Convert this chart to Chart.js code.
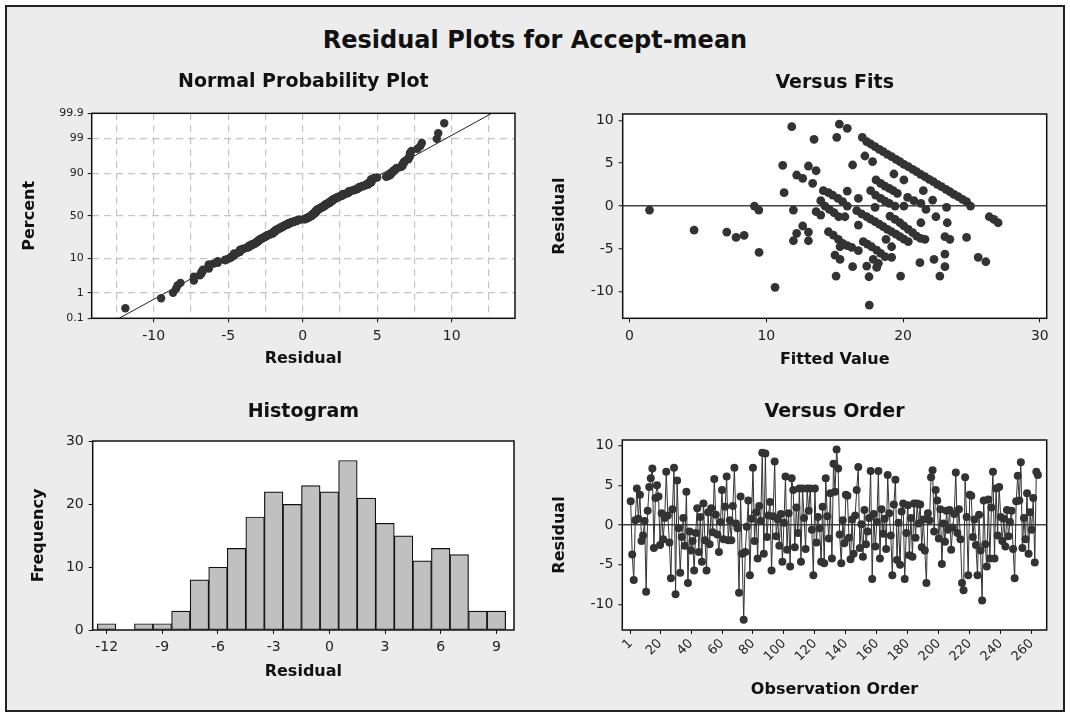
<!DOCTYPE html>
<html>
<head>
<meta charset="utf-8">
<title>Residual Plots for Accept-mean</title>
<script src="https://cdn.jsdelivr.net/npm/chart.js@4.4.1/dist/chart.umd.min.js"></script>
<style>
  html, body { margin: 0; padding: 0; background: #fff; width: 1070px; height: 719px; overflow: hidden; }
  #frame { position: absolute; left: 5px; top: 5px; width: 1056px; height: 703px; border: 2px solid #222; background: #ececec; }
  #mainTitle { position: absolute; left: 0; top: 26px; width: 1070px; line-height: 28px; text-align: center;
               font: bold 24px "DejaVu Sans", Verdana, sans-serif; color: #111; }
  canvas { position: absolute; }
</style>
</head>
<body>
<div id="frame"></div>
<div id="mainTitle">Residual Plots for Accept-mean</div>
<canvas id="npp" width="520" height="320" style="left:10px;top:60px"></canvas>
<canvas id="fits" width="520" height="320" style="left:540px;top:60px"></canvas>
<canvas id="hist" width="520" height="320" style="left:10px;top:390px"></canvas>
<canvas id="order" width="520" height="320" style="left:540px;top:390px"></canvas>
<script>
// residuals in observation order
const residuals = [
  3.0, -3.7, -6.9, 0.6, 4.6, 0.8, 3.8, -2.0, -1.3, 0.5,
  -8.4, 1.8, 4.8, 5.9, 7.1, -2.9, 3.4, 5.0, 3.6, -2.5,
  1.5, -1.8, 0.9, 6.7, 1.2, -2.2, -6.7, 2.0, 7.2, -8.7,
  5.6, -0.4, -6.0, -1.5, 0.9, -2.6, 4.2, -7.3, -0.8, -3.2,
  -2.0, -5.7, -1.0, 2.1, -3.4, 1.0, -4.6, 2.7, -1.9, -5.7,
  1.6, -2.4, 2.1, -0.9, 5.8, 1.3, -1.2, -3.4, 0.4, 4.4,
  -1.8, 2.3, 6.1, -1.9, 0.6, -1.9, 2.4, 7.2, 0.2, -0.4,
  -8.5, 3.6, -3.6, -11.9, -3.4, -0.2, 3.1, -6.3, 0.8, 7.2,
  -2.0, 1.6, -4.2, 2.4, 0.5, 9.1, -3.6, 9.0, -1.5, 1.2,
  2.9, -5.7, 1.1, 8.0, -1.4, 0.7, -2.6, 1.4, -4.6, 0.3,
  6.1, -3.1, 1.5, -5.2, 5.9, 4.4, -2.8, 2.2, -1.0, 4.6,
  -4.6, 4.6, 0.9, -3.0, 4.6, 1.8, 4.6, -0.6, -6.3, 4.6,
  -2.2, 1.0, -0.4, -4.6, 2.3, -4.8, 5.9, 1.1, -1.7, 4.0,
  -4.2, 7.7, 4.2, 9.5, 7.1, -1.2, -4.8, 0.6, -2.3, 3.8,
  3.7, -1.6, -4.3, 0.7, -3.6, 1.2, 4.4, 7.3, -2.9, 0.1,
  -4.0, 1.9, -2.4, -0.8, 0.9, 6.8, -6.8, 1.4, -2.7, 0.4,
  6.8, -4.2, 2.0, -1.1, 0.8, -3.0, 6.3, 1.5, -1.3, -6.3,
  2.6, 5.7, -4.4, 0.3, -5.0, 1.7, 2.7, -6.8, -1.0, 2.5,
  -3.8, 0.9, -4.0, 2.7, -1.6, 2.7, 0.2, 2.6, -2.8, 0.7,
  -3.2, -7.3, 1.5, 0.6, 6.0, 6.9, -0.8, 4.4, 3.1, -1.7,
  2.0, -4.9, 0.2, -2.1, 1.8, -0.6, 1.9, -3.1, -0.3, 1.4,
  6.6, -1.0, 2.0, -1.8, -7.3, -8.2, 6.0, 1.0, -6.3, 3.8,
  3.7, -1.5, 0.7, -2.5, -6.3, 1.3, -3.2, -9.5, 3.1, -2.4,
  -5.2, 3.2, -4.2, 2.2, 6.7, -4.2, 4.6, -1.3, 4.8, 1.0,
  -2.0, 0.8, -2.7, 1.9, -1.4, 0.4, 1.8, -3.0, -6.7, 3.0,
  6.2, 3.1, 7.9, -2.9, 0.9, -1.8, 4.0, -3.6, 1.6, -0.6,
  3.4, -4.7, 6.7, 6.3
];

// Versus Fits points (fitted value / residual)
const fittedValues = [
  1.46, 4.72, 7.11, 7.79, 8.38, 9.13, 9.45, 9.47, 10.64, 11.2,
  11.3, 11.86, 11.98, 11.98, 12.22, 12.66, 12.22, 12.66, 13.08, 13.64,
  13.39, 13.08, 13.08, 13.49, 13.98, 13.64, 13.98, 14.17, 14.54, 14.85,
  15.24, 15.58, 15.92, 14.29, 14.61, 14.95, 15.29, 15.75, 15.92, 16.31,
  16.73, 16.73, 14.54, 14.9, 15.27, 15.58, 15.92, 16.24, 16.73, 15.39,
  15.02, 15.39, 15.1, 16.31, 15.15, 15.34, 15.92, 17.02, 17.34, 17.63,
  17.95, 18.26, 18.55, 18.85, 19.16, 19.48, 19.77, 20.06, 20.38, 20.7,
  20.99, 21.28, 21.6, 21.91, 22.21, 22.5, 22.81, 23.13, 23.42, 23.72,
  24.03, 24.35, 24.64, 24.93, 17.21, 17.77, 19.33, 20.06, 18.02, 18.36,
  18.68, 18.99, 19.28, 19.58, 17.63, 17.99, 18.36, 18.68, 18.99, 19.41,
  17.95, 16.61, 16.97, 17.34, 17.63, 17.95, 18.26, 18.55, 18.85, 19.16,
  19.48, 19.77, 20.06, 20.38, 19.04, 19.41, 19.77, 20.06, 20.38, 20.7,
  20.99, 21.28, 17.09, 17.39, 17.7, 18.07, 18.36, 18.68, 17.34, 17.82,
  18.19, 17.51, 18.07, 19.16, 18.75, 19.16, 17.53, 21.48, 22.16, 23.18,
  21.3, 22.4, 23.23, 21.6, 22.26, 23.06, 23.06, 23.42, 21.23, 22.69,
  23.06, 19.82, 24.64, 25.49, 26.05, 26.3, 26.64, 26.95, 20.33, 20.79,
  21.3, 21.67, 20.06
];
const fittedResiduals = [
  -0.47, -2.8, -3.04, -3.66, -3.42, 0, -0.47, -5.41, -9.49, 4.75,
  1.56, 9.26, -0.47, -4.05, -3.19, -2.33, 3.62, 3.23, 4.67, 4.12,
  2.65, -3.04, -4.05, 7.78, 0.62, -0.66, -1.05, 1.79, 1.56, 1.28,
  0.89, 0.51, 0, 0, -0.39, -0.78, -1.25, -1.25, 1.75, 4.79,
  0.89, -2.22, -3.0, -3.39, -3.89, -4.36, -4.63, -4.82, -5.21, -4.75,
  -5.72, -6.23, -8.17, -7.08, 8.02, 9.57, 9.07, 8.02, 7.51, 7.24,
  6.93, 6.61, 6.34, 6.03, 5.76, 5.45, 5.18, 4.86, 4.59, 4.28,
  4.01, 3.7, 3.42, 3.11, 2.84, 2.53, 2.26, 1.95, 1.67, 1.36,
  1.09, 0.78, 0.51, 0, 5.84, 5.18, 3.74, 3.04, 3.04, 2.65,
  2.33, 2.06, 1.79, 1.48, 1.79, 1.28, 0.89, 0.58, 0.31, 0,
  -0.16, -0.54, -0.93, -1.25, -1.52, -1.83, -2.1, -2.41, -2.72, -3.0,
  -3.27, -3.58, -3.85, -4.16, -1.17, -1.56, -1.95, -2.33, -2.72, -3.11,
  -3.5, -3.77, -4.16, -4.44, -4.75, -5.14, -5.53, -5.91, -7.0, -6.23,
  -6.69, -8.25, -7.16, -5.99, -3.89, -4.75, -11.56, 1.79, 0.7, -0.16,
  -1.95, -1.25, -1.95, -3.89, -6.23, -5.6, -3.58, -3.89, -6.61, -8.17,
  -7.08, -8.17, -3.66, -5.99, -6.5, -1.25, -1.56, -1.95, 1.01, 0.62,
  0.31, -0.39, 0
];

// histogram (bin midpoints, counts)
const histBins = [-12, -11, -10, -9, -8, -7, -6, -5, -4, -3, -2, -1, 0, 1, 2, 3, 4, 5, 6, 7, 8, 9];
const histCounts = [1, 0, 1, 1, 3, 8, 10, 13, 18, 22, 20, 23, 22, 27, 21, 17, 15, 11, 13, 12, 3, 3];

// tick labels
const nppPercentTicks = [0.1, 1, 10, 50, 90, 99, 99.9];
const nppResidTicks = [-10, -5, 0, 5, 10];
const nppGridX = [-12.5, -10, -7.5, -5, -2.5, 0, 2.5, 5, 7.5, 10, 12.5];
const fitsTicks = [0, 10, 20, 30];
const residTicks = [-10, -5, 0, 5, 10];
const histXTicks = [-12, -9, -6, -3, 0, 3, 6, 9];
const histYTicks = [0, 10, 20, 30];
const orderTicks = [1, 20, 40, 60, 80, 100, 120, 140, 160, 180, 200, 220, 240, 260];

// inverse normal cdf (Acklam) for the probability axis
function normInv(p) {
  const a = [-3.969683028665376e+01, 2.209460984245205e+02, -2.759285104469687e+02, 1.383577518672690e+02, -3.066479806614716e+01, 2.506628277459239e+00];
  const b = [-5.447609879822406e+01, 1.615858368580409e+02, -1.556989798598866e+02, 6.680131188771972e+01, -1.328068155288572e+01];
  const c = [-7.784894002430293e-03, -3.223964580411365e-01, -2.400758277161838e+00, -2.549732539343734e+00, 4.374664141464968e+00, 2.938163982698783e+00];
  const d = [7.784695709041462e-03, 3.224671290700398e-01, 2.445134137142996e+00, 3.754408661907416e+00];
  let q, r;
  if (p < 0.02425) {
    q = Math.sqrt(-2 * Math.log(p));
    return (((((c[0]*q+c[1])*q+c[2])*q+c[3])*q+c[4])*q+c[5]) / ((((d[0]*q+d[1])*q+d[2])*q+d[3])*q+1);
  }
  if (p > 1 - 0.02425) {
    q = Math.sqrt(-2 * Math.log(1 - p));
    return -(((((c[0]*q+c[1])*q+c[2])*q+c[3])*q+c[4])*q+c[5]) / ((((d[0]*q+d[1])*q+d[2])*q+d[3])*q+1);
  }
  q = p - 0.5; r = q * q;
  return (((((a[0]*r+a[1])*r+a[2])*r+a[3])*r+a[4])*r+a[5])*q / (((((b[0]*r+b[1])*r+b[2])*r+b[3])*r+b[4])*r+1);
}

const FONT = '"DejaVu Sans", Verdana, sans-serif';
Chart.defaults.font.family = FONT;
Chart.defaults.color = '#222';
Chart.defaults.animation = false;
Chart.defaults.plugins.legend.display = false;
Chart.defaults.plugins.tooltip.enabled = false;

// white plot area + black frame like Minitab
Chart.register({
  id: 'plotFrame',
  beforeDraw(chart) {
    const a = chart.chartArea, ctx = chart.ctx;
    ctx.save();
    ctx.fillStyle = '#fff';
    ctx.fillRect(a.left, a.top, a.right - a.left, a.bottom - a.top);
    ctx.restore();
  },
  afterDraw(chart) {
    const a = chart.chartArea, ctx = chart.ctx;
    ctx.save();
    ctx.strokeStyle = '#111';
    ctx.lineWidth = 1.5;
    ctx.strokeRect(a.left, a.top, a.right - a.left, a.bottom - a.top);
    ctx.restore();
  }
});

const NONE = 'rgba(0,0,0,0)';
function panelTitle(text, top, bottom) {
  return { display: true, text: text, fullSize: false, color: '#111',
           font: { size: 19, weight: 'bold' }, padding: { top: top, bottom: bottom } };
}
function axisTitle(text, pad) {
  return { display: true, text: text, color: '#111', font: { size: 16, weight: 'bold' }, padding: pad };
}
function fixedTicks(values) {
  return function (s) { s.ticks = values.map(v => ({ value: v })); };
}
function fixSize(prop, size) {
  return function (s) {
    s[prop] = size;
    s.paddingLeft = 0; s.paddingRight = 0; s.paddingTop = 0; s.paddingBottom = 0;
  };
}
const zeroLine = c => (c.tick && c.tick.value === 0) ? '#444' : NONE;

// ---------- Normal probability plot ----------
const sorted = residuals.slice().sort((a, b) => a - b);
const n = sorted.length;
const nppPoints = sorted.map((r, i) => ({ x: r, y: normInv((i + 1 - 0.3) / (n + 0.4)) }));
const mean = sorted.reduce((s, v) => s + v, 0) / n;
const sd = Math.sqrt(sorted.reduce((s, v) => s + (v - mean) * (v - mean), 0) / (n - 1));
const zTop = normInv(0.999);
const nppZTicks = nppPercentTicks.map(p => normInv(p / 100));

new Chart(document.getElementById('npp'), {
  type: 'scatter',
  data: {
    datasets: [
      { data: nppPoints, pointRadius: 4.2, backgroundColor: '#333', borderWidth: 0 },
      { data: [{ x: mean - zTop * sd, y: -zTop }, { x: mean + zTop * sd, y: zTop }],
        showLine: true, pointRadius: 0, borderColor: '#222', borderWidth: 1 }
    ]
  },
  options: {
    responsive: false,
    layout: { padding: { left: 0, right: 15, top: 0, bottom: 0 } },
    plugins: { title: panelTitle('Normal Probability Plot', 10.6, 19.9) },
    scales: {
      x: {
        type: 'linear', min: -14.16, max: 14.25,
        afterBuildTicks: fixedTicks(nppGridX),
        afterFit: fixSize('height', 61.7),
        ticks: { font: { size: 14 }, padding: 6, color: '#222',
                 callback: v => nppResidTicks.includes(v) ? String(v) : '' },
        grid: { color: '#c4c4c4', lineWidth: 1.2, tickLength: 4, tickWidth: 1,
                tickColor: c => nppResidTicks.includes(c.tick.value) ? '#111' : NONE },
        border: { display: false, dash: [7, 5] },
        title: axisTitle('Residual', { bottom: 11.1 })
      },
      y: {
        type: 'linear', min: -zTop, max: zTop,
        afterBuildTicks: fixedTicks(nppZTicks),
        afterFit: fixSize('width', 81.7),
        ticks: { font: { size: 11 }, padding: 4, color: '#222',
                 callback: (v, i) => String(nppPercentTicks[i]) },
        grid: { color: c => (c.index === 0 || c.index === nppZTicks.length - 1) ? NONE : '#c4c4c4',
                lineWidth: 1.2, tickLength: 4, tickWidth: 1, tickColor: '#111' },
        border: { display: false, dash: [7, 5] },
        title: axisTitle('Percent', { top: 10.4 })
      }
    }
  }
});

// ---------- Versus fits ----------
new Chart(document.getElementById('fits'), {
  type: 'scatter',
  data: {
    datasets: [{
      data: fittedValues.map((f, i) => ({ x: f, y: fittedResiduals[i] })),
      pointRadius: 4.4, backgroundColor: '#333', borderWidth: 0
    }]
  },
  options: {
    responsive: false,
    layout: { padding: { left: 0, right: 13.3, top: 0, bottom: 0 } },
    plugins: { title: panelTitle('Versus Fits', 11.3, 19.9) },
    scales: {
      x: {
        type: 'linear', min: -0.5, max: 30.5,
        afterBuildTicks: fixedTicks(fitsTicks),
        afterFit: fixSize('height', 61.7),
        ticks: { font: { size: 14 }, padding: 6, color: '#222' },
        grid: { color: NONE, tickLength: 4, tickWidth: 1, tickColor: '#111' },
        border: { display: false },
        title: axisTitle('Fitted Value', { bottom: 10.4 })
      },
      y: {
        type: 'linear', min: -13.1, max: 10.74,
        afterBuildTicks: fixedTicks(residTicks),
        afterFit: fixSize('width', 82.7),
        ticks: { font: { size: 14 }, padding: 5, color: '#222' },
        grid: { color: zeroLine, lineWidth: 1.5, tickLength: 4, tickWidth: 1, tickColor: '#111' },
        border: { display: false },
        title: axisTitle('Residual', { top: 10.7 })
      }
    }
  }
});

// ---------- Histogram ----------
new Chart(document.getElementById('hist'), {
  type: 'bar',
  data: {
    datasets: [{
      data: histBins.map((b, i) => ({ x: b, y: histCounts[i] })),
      backgroundColor: '#c0c0c0', borderColor: '#111', borderWidth: 1.2, borderSkipped: false,
      barPercentage: 1, categoryPercentage: 1
    }]
  },
  options: {
    responsive: false,
    layout: { padding: { left: 0, right: 16, top: 0, bottom: 0 } },
    plugins: { title: panelTitle('Histogram', 10.3, 17.9) },
    scales: {
      x: {
        type: 'linear', min: -12.75, max: 9.95, offset: false,
        afterBuildTicks: fixedTicks(histXTicks),
        afterFit: fixSize('height', 80),
        ticks: { font: { size: 14 }, padding: 5, color: '#222' },
        grid: { offset: false, color: NONE, tickLength: 4, tickWidth: 1, tickColor: '#111' },
        border: { display: false },
        title: axisTitle('Residual', { bottom: 28.7 })
      },
      y: {
        type: 'linear', min: 0, max: 30.1,
        afterBuildTicks: fixedTicks(histYTicks),
        afterFit: fixSize('width', 82.7),
        ticks: { font: { size: 14 }, padding: 5, color: '#222' },
        grid: { color: NONE, tickLength: 4, tickWidth: 1, tickColor: '#111' },
        border: { display: false },
        title: axisTitle('Frequency', { top: 19.1 })
      }
    }
  }
});

// ---------- Versus order ----------
new Chart(document.getElementById('order'), {
  type: 'scatter',
  data: {
    datasets: [{
      data: residuals.map((r, i) => ({ x: i + 1, y: r })),
      showLine: true, borderColor: '#333', borderWidth: 1,
      pointRadius: 4, backgroundColor: '#333', pointBorderWidth: 0
    }]
  },
  options: {
    responsive: false,
    layout: { padding: { left: 0, right: 13.3, top: 0, bottom: 0 } },
    plugins: { title: panelTitle('Versus Order', 10.3, 16.9) },
    scales: {
      x: {
        type: 'linear', min: -4.4, max: 269.7,
        afterBuildTicks: fixedTicks(orderTicks),
        afterFit: fixSize('height', 80),
        ticks: { font: { size: 13 }, padding: 2, color: '#222', minRotation: 45, maxRotation: 45, autoSkip: false },
        grid: { color: NONE, tickLength: 4, tickWidth: 1, tickColor: '#111' },
        border: { display: false },
        title: axisTitle('Observation Order', { bottom: 10.4 })
      },
      y: {
        type: 'linear', min: -13.2, max: 10.7,
        afterBuildTicks: fixedTicks(residTicks),
        afterFit: fixSize('width', 82.3),
        ticks: { font: { size: 14 }, padding: 5, color: '#222' },
        grid: { color: zeroLine, lineWidth: 1.5, tickLength: 4, tickWidth: 1, tickColor: '#111' },
        border: { display: false },
        title: axisTitle('Residual', { top: 10.7 })
      }
    }
  }
});
</script>
</body>
</html>
